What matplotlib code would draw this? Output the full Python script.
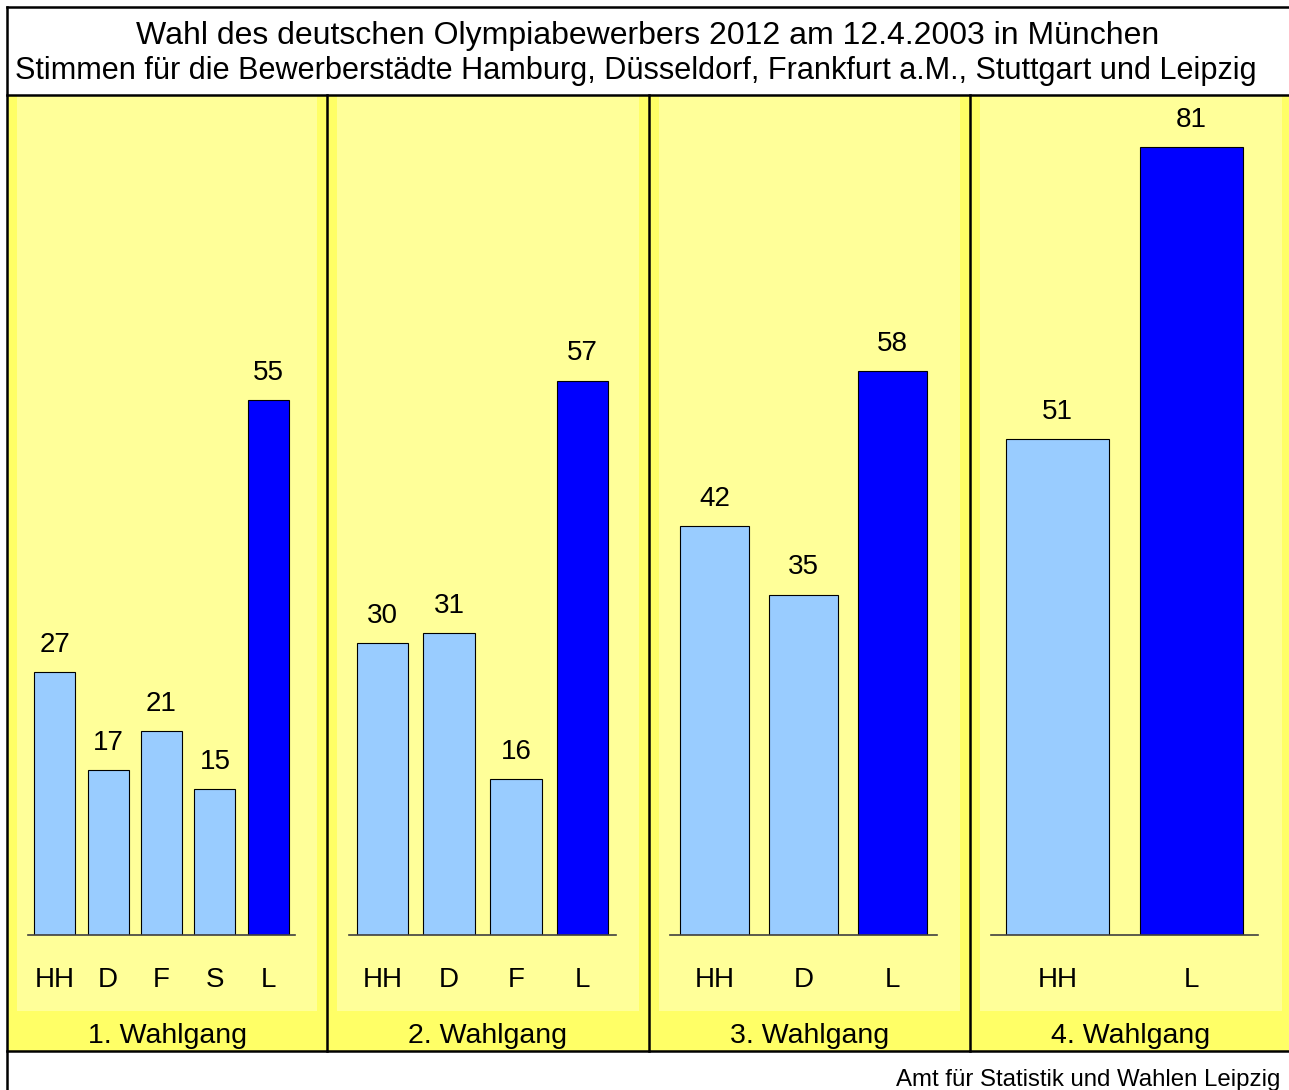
import matplotlib
matplotlib.use('Agg')
import matplotlib.pyplot as plt
from matplotlib.patches import Rectangle

plt.rcParams['font.family'] = ['Liberation Sans', 'DejaVu Sans']

# data
rounds = ['1. Wahlgang', '2. Wahlgang', '3. Wahlgang', '4. Wahlgang']
cats_1 = ['HH', 'D', 'F', 'S', 'L']
votes_1 = [27, 17, 21, 15, 55]
cats_2 = ['HH', 'D', 'F', 'L']
votes_2 = [30, 31, 16, 57]
cats_3 = ['HH', 'D', 'L']
votes_3 = [42, 35, 58]
cats_4 = ['HH', 'L']
votes_4 = [51, 81]

title1 = 'Wahl des deutschen Olympiabewerbers 2012 am 12.4.2003 in München'
title2 = 'Stimmen für die Bewerberstädte Hamburg, Düsseldorf, Frankfurt a.M., Stuttgart und Leipzig'
source = 'Amt für Statistik und Wahlen Leipzig'

W, H = 1289, 1090
outer_yellow = '#FFFF66'
inner_yellow = '#FFFF99'
light_blue = '#99CCFF'
dark_blue = '#0000FF'

fig = plt.figure(figsize=(W / 100, H / 100), dpi=100)
fig.patch.set_facecolor('white')

# background frame in pixel coords
bg = fig.add_axes([0, 0, 1, 1])
bg.set_xlim(0, W)
bg.set_ylim(H, 0)
bg.axis('off')

seps = [7, 327, 649, 970, 1292]
bg.add_patch(Rectangle((7, 95), W - 7, 1051 - 95, facecolor=outer_yellow, edgecolor='none'))
for k in range(4):
    x0 = seps[k] + 10
    x1 = seps[k + 1] - 10
    bg.add_patch(Rectangle((x0, 96), x1 - x0, 1011 - 96, facecolor=inner_yellow, edgecolor='none'))
    bg.text((x0 + x1) / 2, 1036, rounds[k], ha='center', va='center', fontsize=20.5)
for x in seps[1:4]:
    bg.plot([x, x], [95, 1051], color='black', lw=1.8)
bg.plot([7, 7], [7, H], color='black', lw=1.8)
bg.plot([7, W], [7, 7], color='black', lw=1.8)
bg.plot([7, W], [95, 95], color='black', lw=1.8)
bg.plot([7, W], [1051, 1051], color='black', lw=1.8)

bg.text(648, 36, title1, ha='center', va='center', fontsize=23)
bg.text(636, 71, title2, ha='center', va='center', fontsize=22.1)
bg.text(1280, 1086, source, ha='right', va='baseline', fontsize=17.3)

# bar panels
panels = [(cats_1, votes_1), (cats_2, votes_2), (cats_3, votes_3), (cats_4, votes_4)]
left_px = [28, 349, 670, 991]
span_px = 267
base_px = 935
top_px = 96
px_per_vote = 535 / 55

for k, (cats, votes) in enumerate(panels):
    ax = fig.add_axes([left_px[k] / W, 1 - base_px / H, span_px / W, (base_px - top_px) / H])
    ax.set_xlim(-0.5, len(cats) - 0.5)
    ax.set_ylim(0, (base_px - top_px) / px_per_vote)
    ax.axis('off')
    ax.patch.set_alpha(0)
    colors = [dark_blue if c == 'L' else light_blue for c in cats]
    xs = list(range(len(cats)))
    ax.bar(xs, votes, width=0.77, color=colors, edgecolor='black', linewidth=0.8, zorder=2)
    ax.plot([-0.5, len(cats) - 0.5], [0, 0], color='#404040', lw=1.2, zorder=3, clip_on=False)
    for i, (c, v) in enumerate(zip(cats, votes)):
        ax.annotate(str(v), (i, v), xytext=(0, 19.5), textcoords='offset points',
                    ha='center', va='center', fontsize=20)
        ax.annotate(c, (i, 0), xytext=(0, -32.5), textcoords='offset points',
                    ha='center', va='center', fontsize=20, annotation_clip=False)

fig.savefig('out.png', dpi=100)
